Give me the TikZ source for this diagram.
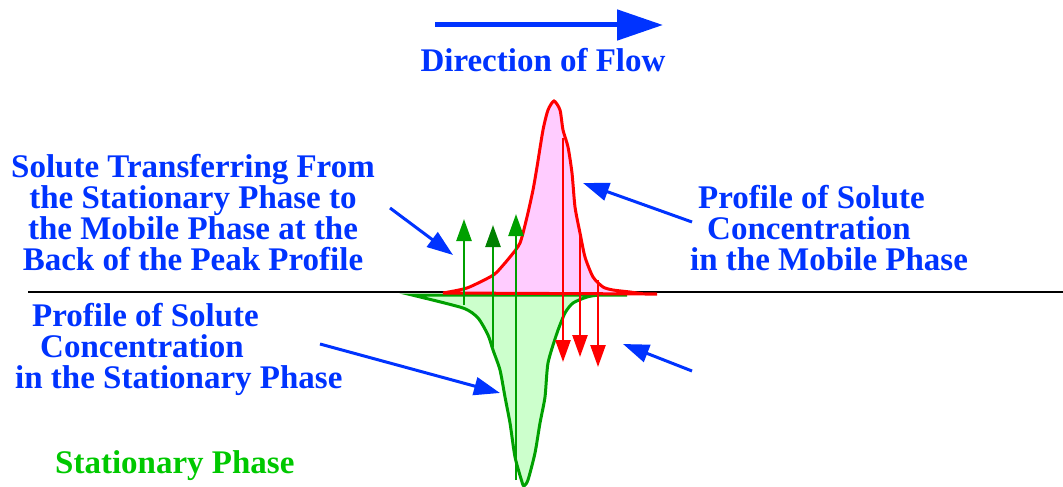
\documentclass[tikz,border=0pt]{standalone}
\usepackage{fontspec}
\setmainfont{Liberation Serif}
\usetikzlibrary{arrows.meta}

\definecolor{lblblue}{RGB}{0,51,255}
\definecolor{lblgreen}{RGB}{0,200,0}
\definecolor{statgreen}{RGB}{0,160,0}
\definecolor{headgreen}{RGB}{0,128,0}
\definecolor{mobpink}{RGB}{255,204,255}
\definecolor{statfill}{RGB}{204,255,204}

\begin{document}
\begin{tikzpicture}[
      x=1pt,y=-1pt,
      lbl/.style={font=\bfseries\fontsize{33}{31}\selectfont,text=lblblue,inner sep=0pt},
      ptr/.style={-{Triangle[length=26pt,width=18pt]},draw=lblblue,line width=3pt},
      upflow/.style={-{Triangle[length=22pt,width=15pt]},draw=statgreen,line width=2.5pt},
      downflow/.style={-{Triangle[length=22pt,width=15pt]},draw=red,line width=2.5pt}]
    \useasboundingbox (0,0) rectangle (1063,487);

    % axis between the two phases
    \draw[line width=2pt,black] (28,292) -- (1063,292);

    % stationary phase profile
    \draw[draw=statgreen,fill=statfill,line width=3pt] plot[smooth,tension=.4] coordinates {
      (412,295) (463,308) (478,318) (488,335) (493,350) (500,370) (505,397) (510,423)
      (515,457) (522,482) (524,486) (528,480) (535,453) (540,423) (545,397) (548,363)
      (557,333) (565,313) (573,303) (587,297) (600,295) (627,295)} -- cycle;

    % mobile phase profile
    \draw[draw=red,fill=mobpink,line width=3pt] plot[smooth,tension=.4] coordinates {
      (443,293) (467,288) (490,277) (497,272) (510,257) (520,243) (527,217) (533,190)
      (537,167) (543,130) (548,110) (554,101) (560,110) (563,130) (568,147) (572,173)
      (575,207) (580,233) (585,257) (593,277) (603,287) (613,290) (630,292) (645,294)
      (657,294)} -- cycle;

    % transfer arrows
    \coordinate (up1s) at (464,305);   \coordinate (up1e) at (464,219);
    \coordinate (up2s) at (493,347);   \coordinate (up2e) at (493,225);
    \coordinate (up3s) at (516,480);   \coordinate (up3e) at (516,214);
    \coordinate (dn1s) at (563,138);   \coordinate (dn1e) at (563,362);
    \coordinate (dn2s) at (580,233);   \coordinate (dn2e) at (580,357);
    \coordinate (dn3s) at (598,280);   \coordinate (dn3e) at (598,367);
    \draw[upflow] (up1s) -- (up1e);
    \draw[upflow,-{Triangle[length=22pt,width=15pt,color=headgreen]}] (up2s) -- (up2e);
    \draw[upflow] (up3s) -- (up3e);
    \draw[downflow] (dn1s) -- (dn1e);
    \draw[downflow] (dn2s) -- (dn2e);
    \draw[downflow] (dn3s) -- (dn3e);

    % labels
    \node[lbl,anchor=base] (flowlbl) at (543,72) {Direction of Flow};
    \node[lbl,anchor=base,align=center] (transferlbl) at (193,270)
      {Solute Transferring From\\the Stationary Phase to\\the Mobile Phase at the\\Back of the Peak Profile};
    \node[lbl,anchor=base west,align=left] (mobilelbl) at (690,270)
      {\hspace*{8pt}Profile of Solute\\\hspace*{17pt}Concentration\\in the Mobile Phase};
    \node[lbl,anchor=base west,align=left] (statlbl) at (15,388)
      {\hspace*{17pt}Profile of Solute\\\hspace*{25pt}Concentration\\in the Stationary Phase};
    \node[lbl,text=lblgreen,anchor=base west] (phaselbl) at (55,473) {Stationary Phase};

    % pointers
    \coordinate (flowtail) at (435,25);  \coordinate (flowhead) at (663,25);
    \coordinate (transfertail) at (390,208); \coordinate (transferhead) at (453,255);
    \coordinate (mobiletail) at (692,222);   \coordinate (mobilehead) at (583,183);
    \coordinate (stattail) at (320,344);     \coordinate (stathead) at (500,393);
    \coordinate (backtail) at (692,371);     \coordinate (backhead) at (623,344);
    \draw[-{Triangle[length=46pt,width=30pt]},draw=lblblue,line width=5pt] (flowtail) -- (flowhead);
    \draw[ptr] (transfertail) -- (transferhead);
    \draw[ptr] (mobiletail) -- (mobilehead);
    \draw[ptr] (stattail) -- (stathead);
    \draw[ptr] (backtail) -- (backhead);
  \end{tikzpicture}
\end{document}
